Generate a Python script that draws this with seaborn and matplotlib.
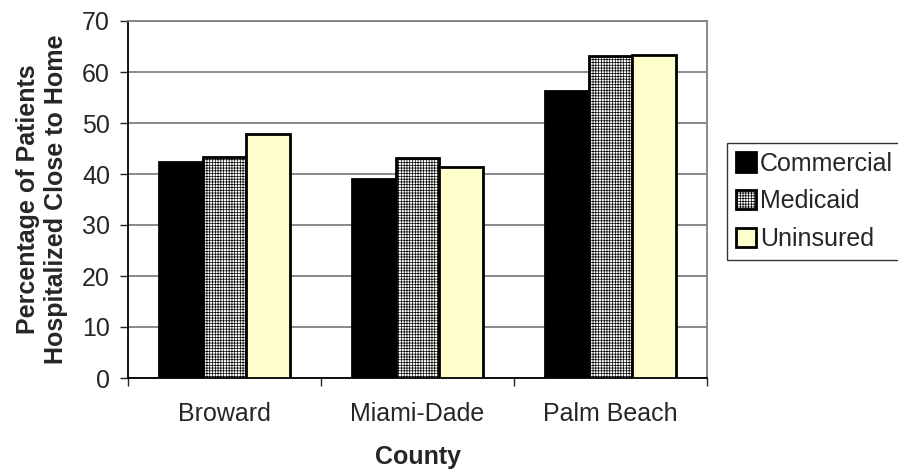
import matplotlib
matplotlib.use("Agg")
import matplotlib.pyplot as plt
import seaborn as sns
import pandas as pd

counties = ["Broward", "Miami-Dade", "Palm Beach"]
payers = ["Commercial", "Medicaid", "Uninsured"]
commercial = [42.4, 39.0, 56.2]
medicaid = [43.4, 43.2, 63.1]
uninsured = [47.9, 41.3, 63.3]
y_ticks = [0, 10, 20, 30, 40, 50, 60, 70]

rows = []
for payer, vals in zip(payers, [commercial, medicaid, uninsured]):
    for county, v in zip(counties, vals):
        rows.append({"County": county, "Payer": payer, "Pct": v})
df = pd.DataFrame(rows)

sns.set_style("white")
plt.rcParams["font.family"] = ["Liberation Sans", "DejaVu Sans"]
plt.rcParams["hatch.linewidth"] = 0.5

FS = 18

fig = plt.figure(figsize=(8.98, 4.71), dpi=100)
ax = fig.add_axes([128 / 898, 1 - 378 / 471, 579 / 898, 357 / 471])

sns.barplot(data=df, x="County", y="Pct", hue="Payer", order=counties,
            hue_order=payers, palette=["#000000", "#FFFFFF", "#FFFFCC"],
            edgecolor="black", linewidth=2.0, width=0.68, gap=0,
            saturation=1, ax=ax, legend=False, zorder=3)

for p in ax.containers[1].patches:
    p.set_hatch("++++++")

ax.set_ylim(0, 70)
ax.set_yticks(y_ticks)
ax.set_xlim(-0.5, 2.5)
ax.yaxis.grid(True, color="#808080", linewidth=1.3, zorder=0)
ax.set_axisbelow(True)

for side in ["top", "right"]:
    ax.spines[side].set_color("#808080")
    ax.spines[side].set_linewidth(1.3)
for side in ["left", "bottom"]:
    ax.spines[side].set_color("black")
    ax.spines[side].set_linewidth(1.3)

ax.tick_params(axis="y", which="major", length=6, width=1, direction="out",
               labelsize=FS, left=True, pad=7)
ax.tick_params(axis="x", which="major", length=0, labelsize=FS, pad=17)
ax.set_xticks([-0.5, 0.5, 1.5, 2.5], minor=True)
ax.tick_params(axis="x", which="minor", length=6, width=1, direction="out",
               bottom=True)

ax.set_xlabel("County", fontsize=FS, fontweight="bold", labelpad=14)
ax.set_ylabel("Percentage of Patients\nHospitalized Close to Home",
              fontsize=FS, fontweight="bold", labelpad=10)

handles = [c.patches[0] for c in ax.containers]
leg = fig.legend(handles, payers, loc="upper left",
                 bbox_to_anchor=(727 / 898, 1 - 143 / 471), fontsize=FS,
                 frameon=True, fancybox=False, edgecolor="black",
                 handlelength=0.8, handleheight=0.8, handletextpad=0.16,
                 borderpad=0.35, labelspacing=0.55, borderaxespad=0)
leg.get_frame().set_linewidth(1.0)

fig.savefig("out.png", dpi=100)
